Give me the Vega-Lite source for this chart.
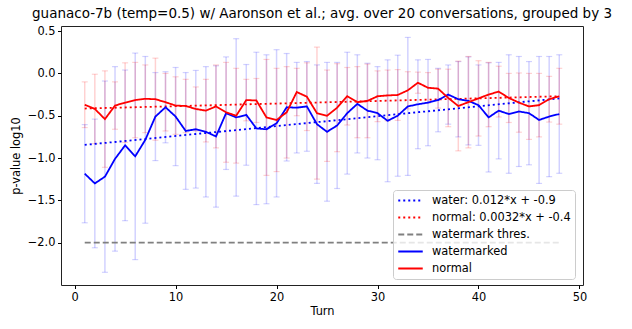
{
  "$schema": "https://vega.github.io/schema/vega-lite/v6.json",
  "width": 522,
  "height": 259,
  "autosize": {"type": "none"},
  "padding": {"left": 61, "top": 26, "right": 49, "bottom": 44},
  "background": "white",
  "title": {"text": "guanaco-7b (temp=0.5) w/ Aaronson et al.; avg. over 20 conversations, grouped by 3", "fontSize": 13.5, "font": "DejaVu Sans", "fontWeight": "normal", "color": "black", "offset": 5, "anchor": "middle"},
  "config": {
    "font": "DejaVu Sans",
    "view": {"stroke": "#222", "strokeWidth": 1},
    "axis": {"grid": false, "domain": false, "tickColor": "black", "tickSize": 3.5, "labelFontSize": 11.4, "labelColor": "black", "titleFontSize": 11.4, "titleFontWeight": "normal", "titleColor": "black", "labelFont": "DejaVu Sans", "titleFont": "DejaVu Sans", "labelFlush": false, "labelPadding": 2.5}
  },
  "datasets": {
    "series": [
      {"label": "water: 0.012*x + -0.9", "t": 1, "v": -0.845},
      {"label": "water: 0.012*x + -0.9", "t": 48, "v": -0.295},
      {"label": "normal: 0.0032*x + -0.4", "t": 1, "v": -0.415},
      {"label": "normal: 0.0032*x + -0.4", "t": 48, "v": -0.27},
      {"label": "watermark thres.", "t": 1, "v": -2.0},
      {"label": "watermark thres.", "t": 48, "v": -2.0},
      {"label": "watermarked", "t": 1, "v": -1.185, "err": 0.58},
      {"label": "watermarked", "t": 2, "v": -1.30, "err": 0.76},
      {"label": "watermarked", "t": 3, "v": -1.22, "err": 1.13},
      {"label": "watermarked", "t": 4, "v": -1.01, "err": 1.09},
      {"label": "watermarked", "t": 5, "v": -0.85, "err": 0.89},
      {"label": "watermarked", "t": 6, "v": -0.98, "err": 1.22},
      {"label": "watermarked", "t": 7, "v": -0.785, "err": 0.985},
      {"label": "watermarked", "t": 8, "v": -0.51, "err": 0.52},
      {"label": "watermarked", "t": 9, "v": -0.40, "err": 0.42},
      {"label": "watermarked", "t": 10, "v": -0.51, "err": 0.58},
      {"label": "watermarked", "t": 11, "v": -0.68, "err": 0.69},
      {"label": "watermarked", "t": 12, "v": -0.66, "err": 0.695},
      {"label": "watermarked", "t": 13, "v": -0.69, "err": 0.77},
      {"label": "watermarked", "t": 14, "v": -0.745, "err": 0.835},
      {"label": "watermarked", "t": 15, "v": -0.47, "err": 0.665},
      {"label": "watermarked", "t": 16, "v": -0.52, "err": 0.93},
      {"label": "watermarked", "t": 17, "v": -0.49, "err": 0.595},
      {"label": "watermarked", "t": 18, "v": -0.65, "err": 0.90},
      {"label": "watermarked", "t": 19, "v": -0.66, "err": 0.88},
      {"label": "watermarked", "t": 20, "v": -0.59, "err": 0.87},
      {"label": "watermarked", "t": 21, "v": -0.40, "err": 0.635},
      {"label": "watermarked", "t": 22, "v": -0.405, "err": 0.535},
      {"label": "watermarked", "t": 23, "v": -0.39, "err": 0.53},
      {"label": "watermarked", "t": 24, "v": -0.60, "err": 0.70},
      {"label": "watermarked", "t": 25, "v": -0.69, "err": 0.82},
      {"label": "watermarked", "t": 26, "v": -0.615, "err": 0.745},
      {"label": "watermarked", "t": 27, "v": -0.47, "err": 0.72},
      {"label": "watermarked", "t": 28, "v": -0.36, "err": 0.58},
      {"label": "watermarked", "t": 29, "v": -0.44, "err": 0.56},
      {"label": "watermarked", "t": 30, "v": -0.47, "err": 0.55},
      {"label": "watermarked", "t": 31, "v": -0.56, "err": 0.72},
      {"label": "watermarked", "t": 32, "v": -0.50, "err": 0.715},
      {"label": "watermarked", "t": 33, "v": -0.39, "err": 0.815},
      {"label": "watermarked", "t": 34, "v": -0.365, "err": 0.525},
      {"label": "watermarked", "t": 35, "v": -0.345, "err": 0.51},
      {"label": "watermarked", "t": 36, "v": -0.315, "err": 0.375},
      {"label": "watermarked", "t": 37, "v": -0.25, "err": 0.35},
      {"label": "watermarked", "t": 38, "v": -0.305, "err": 0.445},
      {"label": "watermarked", "t": 39, "v": -0.325, "err": 0.52},
      {"label": "watermarked", "t": 40, "v": -0.375, "err": 0.475},
      {"label": "watermarked", "t": 41, "v": -0.52, "err": 0.645},
      {"label": "watermarked", "t": 42, "v": -0.44, "err": 0.57},
      {"label": "watermarked", "t": 43, "v": -0.48, "err": 0.70},
      {"label": "watermarked", "t": 44, "v": -0.45, "err": 0.65},
      {"label": "watermarked", "t": 45, "v": -0.47, "err": 0.61},
      {"label": "watermarked", "t": 46, "v": -0.55, "err": 0.75},
      {"label": "watermarked", "t": 47, "v": -0.51, "err": 0.71},
      {"label": "watermarked", "t": 48, "v": -0.48, "err": 0.70},
      {"label": "normal", "t": 1, "v": -0.37, "err": 0.27},
      {"label": "normal", "t": 2, "v": -0.42, "err": 0.41},
      {"label": "normal", "t": 3, "v": -0.54, "err": 0.57},
      {"label": "normal", "t": 4, "v": -0.38, "err": 0.28},
      {"label": "normal", "t": 5, "v": -0.345, "err": 0.47},
      {"label": "normal", "t": 6, "v": -0.315, "err": 0.445},
      {"label": "normal", "t": 7, "v": -0.30, "err": 0.40},
      {"label": "normal", "t": 8, "v": -0.305, "err": 0.485},
      {"label": "normal", "t": 9, "v": -0.34, "err": 0.34},
      {"label": "normal", "t": 10, "v": -0.38, "err": 0.34},
      {"label": "normal", "t": 11, "v": -0.385, "err": 0.315},
      {"label": "normal", "t": 12, "v": -0.42, "err": 0.26},
      {"label": "normal", "t": 13, "v": -0.44, "err": 0.37},
      {"label": "normal", "t": 14, "v": -0.39, "err": 0.49},
      {"label": "normal", "t": 15, "v": -0.46, "err": 0.59},
      {"label": "normal", "t": 16, "v": -0.50, "err": 0.56},
      {"label": "normal", "t": 17, "v": -0.315, "err": 0.245},
      {"label": "normal", "t": 18, "v": -0.32, "err": 0.26},
      {"label": "normal", "t": 19, "v": -0.52, "err": 0.685},
      {"label": "normal", "t": 20, "v": -0.55, "err": 0.61},
      {"label": "normal", "t": 21, "v": -0.46, "err": 0.54},
      {"label": "normal", "t": 22, "v": -0.22, "err": 0.28},
      {"label": "normal", "t": 23, "v": -0.275, "err": 0.40},
      {"label": "normal", "t": 24, "v": -0.47, "err": 0.78},
      {"label": "normal", "t": 25, "v": -0.50, "err": 0.54},
      {"label": "normal", "t": 26, "v": -0.405, "err": 0.52},
      {"label": "normal", "t": 27, "v": -0.27, "err": 0.34},
      {"label": "normal", "t": 28, "v": -0.34, "err": 0.42},
      {"label": "normal", "t": 29, "v": -0.325, "err": 0.435},
      {"label": "normal", "t": 30, "v": -0.27, "err": 0.30},
      {"label": "normal", "t": 31, "v": -0.26, "err": 0.30},
      {"label": "normal", "t": 32, "v": -0.255, "err": 0.30},
      {"label": "normal", "t": 33, "v": -0.20, "err": 0.22},
      {"label": "normal", "t": 34, "v": -0.11, "err": 0.125},
      {"label": "normal", "t": 35, "v": -0.17, "err": 0.18},
      {"label": "normal", "t": 36, "v": -0.18, "err": 0.23},
      {"label": "normal", "t": 37, "v": -0.29, "err": 0.34},
      {"label": "normal", "t": 38, "v": -0.385, "err": 0.53},
      {"label": "normal", "t": 39, "v": -0.34, "err": 0.54},
      {"label": "normal", "t": 40, "v": -0.295, "err": 0.445},
      {"label": "normal", "t": 41, "v": -0.25, "err": 0.38},
      {"label": "normal", "t": 42, "v": -0.215, "err": 0.30},
      {"label": "normal", "t": 43, "v": -0.29, "err": 0.29},
      {"label": "normal", "t": 44, "v": -0.345, "err": 0.35},
      {"label": "normal", "t": 45, "v": -0.39, "err": 0.39},
      {"label": "normal", "t": 46, "v": -0.375, "err": 0.375},
      {"label": "normal", "t": 47, "v": -0.305, "err": 0.27},
      {"label": "normal", "t": 48, "v": -0.27, "err": 0.33}
    ]
  },
  "data": {"name": "series"},
  "encoding": {
    "x": {"field": "t", "type": "quantitative", "scale": {"domain": [-1.35, 50.35], "nice": false, "zero": false}, "axis": {"values": [0, 10, 20, 30, 40, 50], "title": "Turn", "titlePadding": 3, "labelPadding": 3}},
    "y": {"field": "v", "type": "quantitative", "scale": {"domain": [-2.5, 0.56], "nice": false, "zero": false}, "axis": {"values": [-2, -1.5, -1, -0.5, 0, 0.5], "format": ".1f", "title": "p-value log10", "titlePadding": 6}}
  },
  "layer": [
    {
      "transform": [{"filter": "datum.label === 'watermarked'"}],
      "mark": {"type": "errorbar", "color": "#0000ff", "rule": {"opacity": 0.18, "strokeWidth": 1.5}, "ticks": {"opacity": 0.18, "size": 6, "thickness": 1.2}},
      "encoding": {"yError": {"field": "err"}}
    },
    {
      "transform": [{"filter": "datum.label === 'normal'"}],
      "mark": {"type": "errorbar", "color": "#ff0000", "rule": {"opacity": 0.18, "strokeWidth": 1.5}, "ticks": {"opacity": 0.18, "size": 6, "thickness": 1.2}},
      "encoding": {"yError": {"field": "err"}}
    },
    {
      "mark": {"type": "line", "strokeWidth": 1.8},
      "encoding": {
        "color": {"field": "label", "type": "nominal", "scale": {"domain": ["water: 0.012*x + -0.9", "normal: 0.0032*x + -0.4", "watermark thres.", "watermarked", "normal"], "range": ["#0000ff", "#ff0000", "#808080", "#0000ff", "#ff0000"]}, "legend": {"title": null, "orient": "none", "legendX": 332, "legendY": 164, "symbolType": "stroke", "symbolSize": 600, "clipHeight": 13, "symbolStrokeWidth": 1.8, "labelFontSize": 11.4, "labelColor": "black", "labelFont": "DejaVu Sans", "rowPadding": 4, "labelOffset": 8, "padding": 4, "fillColor": "rgba(255,255,255,0.8)", "strokeColor": "#cccccc", "cornerRadius": 3}},
        "strokeDash": {"field": "label", "type": "nominal", "scale": {"domain": ["water: 0.012*x + -0.9", "normal: 0.0032*x + -0.4", "watermark thres.", "watermarked", "normal"], "range": [[2, 3], [2, 3], [6, 3], [1, 0], [1, 0]]}, "legend": {"title": null}}
      }
    }
  ]
}
